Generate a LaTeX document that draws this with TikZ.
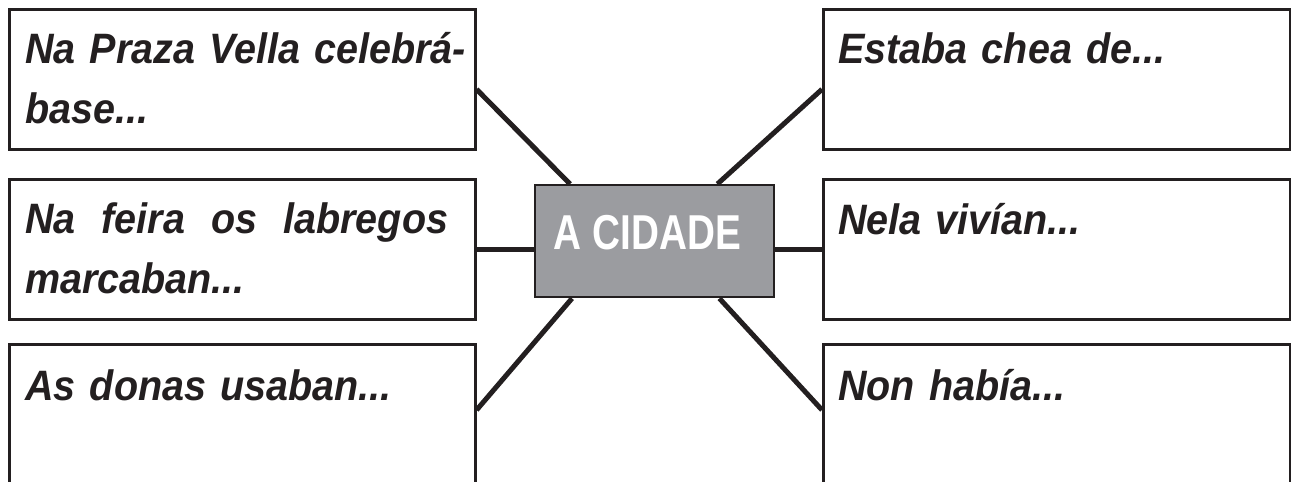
\documentclass[tikz,border=0pt]{standalone}
\usepackage{fontspec}
\setmainfont{Liberation Sans}
\newfontfamily\boxfont{Liberation Sans}[FakeStretch=0.93]
\newfontfamily\hubfont{Liberation Sans}[FakeStretch=0.79]
\usetikzlibrary{backgrounds}
\definecolor{ink}{HTML}{231F20}
\definecolor{hubgray}{HTML}{9B9CA0}
\begin{document}
\begin{tikzpicture}[x=1pt,y=-1pt,
  frame/.style={draw=ink, line width=2.6pt, fill=white, inner sep=0pt,
    minimum height=140pt, anchor=north west},
  leftframe/.style={frame, minimum width=466pt},
  rightframe/.style={frame, minimum width=467pt},
  hub/.style={draw=ink, line width=2.4pt, fill=hubgray, inner sep=0pt,
    minimum width=239pt, minimum height=112pt, anchor=north west},
  prompt/.style={anchor=base west, inner sep=0pt, text=ink, align=left,
    text width=460pt, font=\boxfont\bfseries\itshape\fontsize{42.5}{60}\selectfont},
  hubtext/.style={text=white, inner sep=0pt,
    font=\hubfont\bfseries\fontsize{49}{49}\selectfont},
  link/.style={draw=ink, line width=5pt}]
\useasboundingbox (0,0) rectangle (1291,482);
\clip (0,0) rectangle (1291,482);
% boxes
\node[leftframe]  (b1) at (8,8) {};
\node[leftframe]  (b2) at (8,178) {};
\node[leftframe, minimum height=170pt] (b3) at (8,343) {};
\node[rightframe] (b4) at (822,8) {};
\node[rightframe] (b5) at (822,178) {};
\node[rightframe, minimum height=170pt] (b6) at (822,343) {};
\node[hub] (c) at (534,184) {};
% texts
\node[prompt] (t1) at (25,63) {Na Praza Vella celebrá-\\base...};
\node[prompt] (t2) at (25,233) {\makebox[423pt][l]{Na\hfill feira\hfill os\hfill labregos}\\marcaban...};
\node[prompt] (t3) at (25,400) {As donas usaban...};
\node[prompt] (t4) at (838,63) {Estaba chea de...};
\node[prompt] (t5) at (838,234) {Nela vivían...};
\node[prompt] (t6) at (838,400) {Non había...};
\node[hubtext] (ct) at (647.5,232.5) {A CIDADE};
% connectors
\begin{pgfonlayer}{background}
\draw[link] ([yshift=-10pt]b1.east) -- ([xshift=36pt]c.north west);
\draw[link] ([yshift=-10pt]b4.west) -- ([xshift=-58pt]c.north east);
\draw[link] (b2.east) -- (b2.east -| c.west);
\draw[link] (b5.west) -- (b5.west -| c.east);
\draw[link] ([yshift=-67pt]b3.north east) -- ([xshift=38pt]c.south west);
\draw[link] ([yshift=-67pt]b6.north west) -- ([xshift=-56pt]c.south east);
\end{pgfonlayer}
\end{tikzpicture}
\end{document}
